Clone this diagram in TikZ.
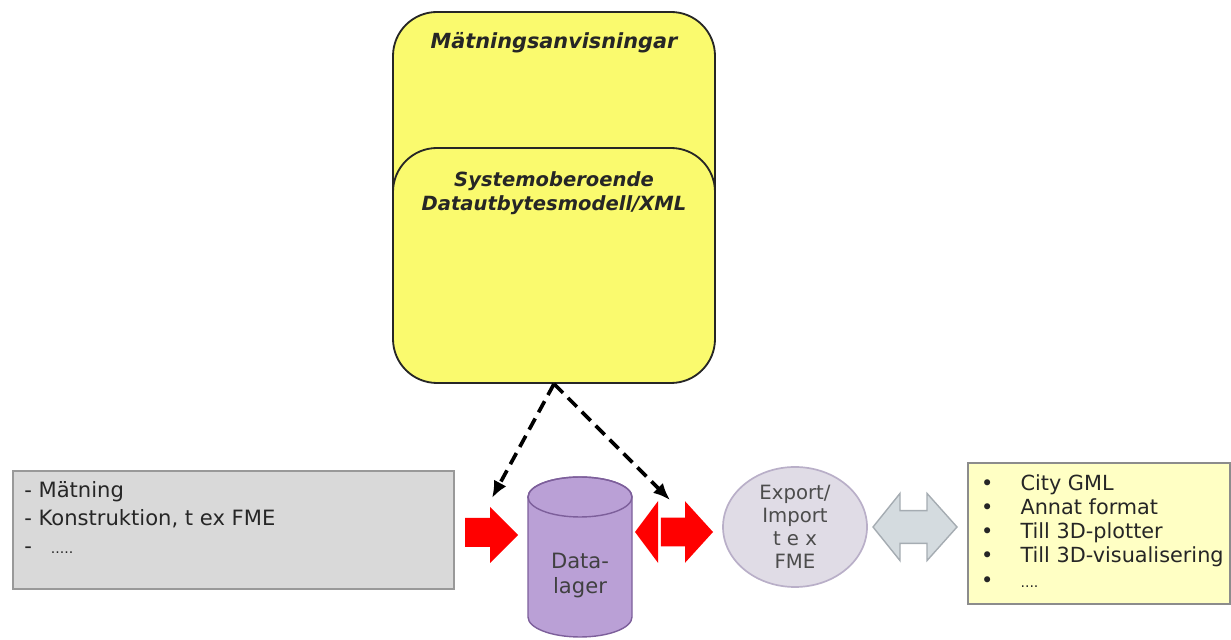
\documentclass[tikz,border=0pt]{standalone}
\usepackage{fontspec}
\setsansfont{DejaVu Sans}
\usetikzlibrary{arrows.meta,calc,positioning,shapes.geometric}

\definecolor{boxyellow}{RGB}{250,250,110}
\definecolor{paleyellow}{RGB}{255,255,196}
\definecolor{boxgray}{RGB}{217,217,217}
\definecolor{dbpurple}{RGB}{186,160,214}
\definecolor{dbedge}{RGB}{125,95,155}
\definecolor{ellfill}{RGB}{224,220,230}
\definecolor{elledge}{RGB}{185,175,200}
\definecolor{twowayfill}{RGB}{212,219,223}
\definecolor{twowayedge}{RGB}{165,172,178}

\begin{document}
\begin{tikzpicture}[
    ybox/.style={draw=black!85, fill=boxyellow, line width=1.3pt,
                 rounded corners=1.1cm, minimum width=8.05cm},
    ytext/.style={font=\sffamily\bfseries\itshape\fontsize{14.8}{17.5}\selectfont,
                  align=center, text=black!85},
    listbox/.style={line width=1.6pt, inner sep=0pt},
    listtext/.style={font=\sffamily\fontsize{15}{20}\selectfont, align=left,
                     inner sep=0pt, text=black!85},
    redarrow/.style={fill=red},
    dasharrow/.style={-{Latex[length=12pt,width=10pt]}, line width=2.6pt,
                      dash pattern=on 9pt off 5pt},
]
\useasboundingbox (0,0) rectangle (30.775,16);

% Yellow model boxes
\node[ybox, minimum height=8.2cm] (anvis) at (13.85,11.6) {};
\node[ytext, below=0.42cm of anvis.north] (anvistext) {Mätningsanvisningar};
\node[ybox, minimum height=5.875cm] (modell) at (13.85,9.3625) {};
\node[ytext, font=\sffamily\bfseries\itshape\fontsize{13.9}{17}\selectfont,
      below=0.5cm of modell.north] (modelltext)
    {Systemoberoende\\Datautbytesmodell/XML};

% Input list
\node[listbox, draw=black!40, fill=boxgray, anchor=north west,
      minimum width=11.025cm, minimum height=2.95cm] (indata) at (0.3,4.25) {};
\node[listtext, anchor=north west] (indatatext) at (0.6,3.98)
    {- Mätning\\- Konstruktion, t ex FME\\-\hspace{0.9em}{\fontsize{10}{10}\selectfont .....}};

% Red arrow into the store
\fill[redarrow] (11.625,3.05) -- (12.25,3.05) -- (12.25,3.325) -- (12.95,2.625)
    -- (12.25,1.925) -- (12.25,2.325) -- (11.625,2.325) -- cycle;

% Data store cylinder
\coordinate (dbtop) at (14.5,3.575);
\coordinate (dbbot) at (14.5,0.575);
\filldraw[fill=dbpurple, draw=dbedge, line width=1pt]
    ($(dbtop)+(-1.3,0)$) -- ($(dbbot)+(-1.3,0)$)
    arc[start angle=180, end angle=360, x radius=1.3cm, y radius=0.5cm]
    -- ($(dbtop)+(1.3,0)$)
    arc[start angle=0, end angle=180, x radius=1.3cm, y radius=0.5cm] -- cycle;
\draw[dbedge, line width=1pt] (dbtop) ellipse [x radius=1.3cm, y radius=0.5cm];
\node[font=\sffamily\fontsize{15}{18}\selectfont, align=center,
      text=black!75] (lager) at (14.5,1.62) {Data-\\lager};

% Two-way red arrow
\fill[redarrow] (16.45,3.47) -- (15.875,2.7) -- (16.45,1.93) -- cycle;
\fill[redarrow] (16.52,3.06) -- (17.125,3.06) -- (17.125,3.47) -- (17.825,2.7)
    -- (17.125,1.93) -- (17.125,2.34) -- (16.52,2.34) -- cycle;

% Export/import converter
\node[ellipse, draw=elledge, fill=ellfill, line width=1.2pt,
      minimum width=3.6cm, minimum height=3cm, inner sep=0pt,
      font=\sffamily\fontsize{14}{16.5}\selectfont, align=center,
      text=black!70] (export) at (19.875,2.825) {Export/\\Import\\t e x\\FME};

% Gray two-way arrow
\filldraw[fill=twowayfill, draw=twowayedge, line width=1pt]
    (21.825,2.825) -- (22.5,3.665) -- (22.5,3.235) -- (23.175,3.235)
    -- (23.175,3.665) -- (23.925,2.825) -- (23.175,1.985) -- (23.175,2.415)
    -- (22.5,2.415) -- (22.5,1.985) -- cycle;

% Output list
\node[listbox, draw=black!45, fill=paleyellow, anchor=north west,
      minimum width=6.55cm, minimum height=3.525cm] (utdata) at (24.175,4.45) {};
\node[font=\sffamily\fontsize{14.8}{17.2}\selectfont, inner sep=0pt,
      anchor=north west, text=black!85] (utdatatext) at (24.52,4.17) {%
    \begin{tabular}{@{}l@{\hspace{0.68cm}}l@{}}
    \textbullet & City GML\\
    \textbullet & Annat format\\
    \textbullet & Till 3D-plotter\\
    \textbullet & Till 3D-visualisering\\
    \textbullet & {\fontsize{10}{10}\selectfont ....}
    \end{tabular}};

% Dashed links from the model down to the exchange points
\coordinate (lefttip) at (12.3,3.55);
\coordinate (righttip) at (16.75,3.5);
\draw[dasharrow] (modell.south) -- (lefttip);
\draw[dasharrow] (modell.south) -- (righttip);

\end{tikzpicture}
\end{document}
